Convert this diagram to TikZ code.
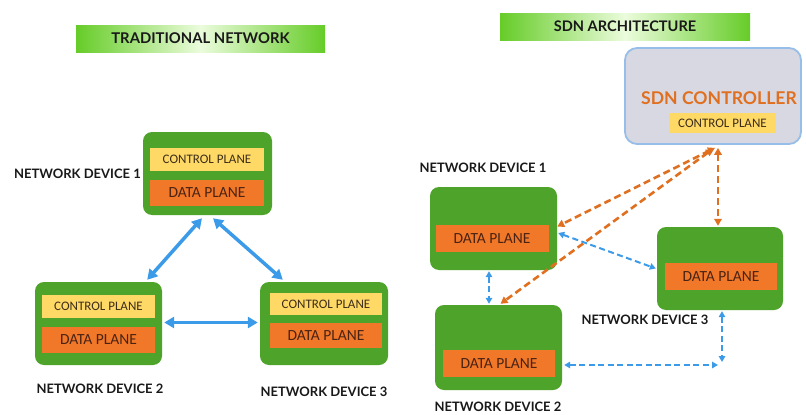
\documentclass[tikz,border=0pt]{standalone}
\usepackage{fontspec}
\setmainfont{Carlito}[BoldFont={Lato Bold}]
\usetikzlibrary{arrows.meta}

\definecolor{devgreen}{RGB}{78,163,42}
\definecolor{ctlyellow}{RGB}{255,217,102}
\definecolor{dataorange}{RGB}{240,120,40}
\definecolor{linkblue}{RGB}{60,155,232}
\definecolor{ctrlorange}{RGB}{224,112,32}
\definecolor{titlegreen}{RGB}{102,204,40}
\definecolor{titlelight}{RGB}{235,252,220}
\definecolor{ctrlgray}{RGB}{216,216,226}
\definecolor{ctrlborder}{RGB}{150,190,232}
\definecolor{planetext}{RGB}{60,45,25}
\definecolor{datatext}{RGB}{75,35,20}
\definecolor{labeltext}{RGB}{25,25,25}

\tikzset{
  devbox/.style={fill=devgreen, rounded corners=9pt, inner sep=0pt},
  ctlbox/.style={fill=ctlyellow, inner sep=0pt, text=planetext,
    font=\fontsize{13}{15}\selectfont},
  databox/.style={fill=dataorange, inner sep=0pt, text=datatext,
    font=\fontsize{15.5}{17}\selectfont},
  devlabel/.style={inner sep=0pt, text=labeltext,
    font=\bfseries\fontsize{13}{15}\selectfont},
  titlebar/.style={inner sep=0pt, left color=titlegreen, right color=titlegreen,
    middle color=titlelight, text=labeltext,
    font=\bfseries\fontsize{14.8}{17}\selectfont},
  thicklink/.style={draw=linkblue, line width=3.5pt,
    {Triangle[length=10pt,width=11pt]}-{Triangle[length=10pt,width=11pt]}},
  bluedash/.style={draw=linkblue, line width=2pt, dash pattern=on 6pt off 3.5pt,
    {Triangle[length=6pt,width=6.5pt]}-{Triangle[length=6pt,width=6.5pt]}},
  orangedash/.style={draw=ctrlorange, line width=2.6pt, dash pattern=on 7pt off 4pt,
    {Triangle[length=7pt,width=7.5pt]}-{Triangle[length=7pt,width=7.5pt]}}
}

\begin{document}
\begin{tikzpicture}[x=1pt,y=-1pt]
\useasboundingbox (0,0) rectangle (806,415);

% ---- titles ----
\node[titlebar, minimum width=249, minimum height=27] (tTrad) at (200.5,38.5) {TRADITIONAL NETWORK};
\node[titlebar, minimum width=250, minimum height=27, font=\bfseries\fontsize{14.6}{17}\selectfont] (tSdn) at (625,26.5) {SDN ARCHITECTURE};

% ---- traditional network: three full devices ----
\node[devbox, minimum width=129, minimum height=83] (L1) at (207.5,173.5) {};
\node[ctlbox, minimum width=114, minimum height=23] (L1c) at (207,159.5) {CONTROL PLANE};
\node[databox, minimum width=114, minimum height=26] (L1d) at (207,193) {DATA PLANE};
\node[devlabel, anchor=east] (L1t) at (141,174) {NETWORK DEVICE 1};

\node[devbox, minimum width=127, minimum height=83] (L2) at (98.5,323.5) {};
\node[ctlbox, minimum width=113, minimum height=23] (L2c) at (98.5,306) {CONTROL PLANE};
\node[databox, minimum width=113, minimum height=26] (L2d) at (98.5,340) {DATA PLANE};
\node[devlabel] (L2t) at (100,389) {NETWORK DEVICE 2};

\node[devbox, minimum width=128, minimum height=83] (L3) at (324,323.5) {};
\node[ctlbox, minimum width=112, minimum height=22] (L3c) at (326,304) {CONTROL PLANE};
\node[databox, minimum width=112, minimum height=25] (L3d) at (326,335.5) {DATA PLANE};
\node[devlabel] (L3t) at (324,392) {NETWORK DEVICE 3};

\draw[thicklink] ([xshift=-5.5pt,yshift=-3pt]L1.south) -- ([xshift=-15pt,yshift=2pt]L2.north east);
\draw[thicklink] ([xshift=5.5pt,yshift=-3pt]L1.south) -- ([xshift=23pt,yshift=2pt]L3.north west);
\draw[thicklink] ([xshift=2pt,yshift=1pt]L2.east) -- ([xshift=-2pt,yshift=1pt]L3.west);

% ---- SDN: central controller ----
\node[fill=ctrlgray, draw=ctrlborder, line width=1.8pt, rounded corners=12pt,
      minimum width=176, minimum height=96, inner sep=0pt] (C) at (713,96) {};
\node[inner sep=0pt, text=ctrlorange, font=\bfseries\fontsize{17.6}{20}\selectfont] (Ct) at (719,98) {SDN CONTROLLER};
\node[ctlbox, minimum width=107, minimum height=20] (Cc) at (722.5,123) {CONTROL PLANE};

% ---- SDN: forwarding devices ----
\node[devbox, minimum width=127, minimum height=83] (S1) at (493.5,228.5) {};
\node[databox, minimum width=113, minimum height=27] (S1d) at (492,238.5) {DATA PLANE};
\node[devlabel] (S1t) at (483,168) {NETWORK DEVICE 1};

\node[devbox, minimum width=127, minimum height=85] (S2) at (498.5,347.5) {};
\node[databox, minimum width=112, minimum height=27] (S2d) at (499,363.5) {DATA PLANE};
\node[devlabel] (S2t) at (498,407) {NETWORK DEVICE 2};

\node[devbox, minimum width=126, minimum height=83] (S3) at (720,268.5) {};
\node[databox, minimum width=112, minimum height=27] (S3d) at (721,276.5) {DATA PLANE};
\node[devlabel] (S3t) at (645,320) {NETWORK DEVICE 3};

% controller to devices
\draw[orangedash] ([xshift=2pt,yshift=-3pt]C.south) -- ([yshift=2pt]S1.east);
\draw[orangedash] ([xshift=0pt,yshift=-4pt]C.south) -- ([xshift=2pt,yshift=1pt]S2.north);
\draw[orangedash] ([xshift=5pt,yshift=-3pt]C.south) -- ([xshift=-2pt,yshift=1pt]S3.north);

% links between devices
\coordinate (hc) at (718,365);
\coordinate (vc) at (722,362);
\draw[bluedash] ([xshift=1pt,yshift=-4.5pt]S1.east) -- ([xshift=-1pt]S3.west);
\draw[bluedash] ([xshift=-4.5pt,yshift=-1pt]S1.south) -- ([xshift=-9.5pt,yshift=1pt]S2.north);
\draw[bluedash] ([xshift=2pt,yshift=-17.5pt]S2.east) -- (hc);
\draw[bluedash] ([xshift=2pt,yshift=-1pt]S3.south) -- (vc);
\end{tikzpicture}
\end{document}
